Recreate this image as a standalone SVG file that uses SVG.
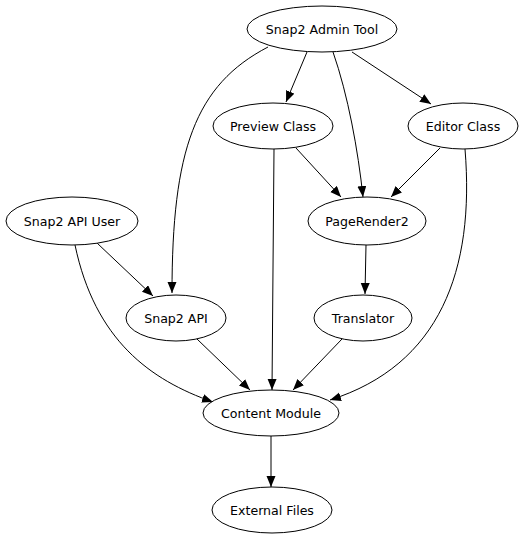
<svg xmlns="http://www.w3.org/2000/svg" width="522" height="538" viewBox="0 0 522 538">
<style>
.n ellipse{fill:#fff;stroke:#000;stroke-width:1}
.n text{font-family:"DejaVu Sans",sans-serif;font-size:12.6px;fill:#000;text-anchor:middle}
#edges path{fill:none;stroke:#000;stroke-width:1;marker-end:url(#ah)}
</style>
<defs>
<marker id="ah" markerUnits="userSpaceOnUse" markerWidth="12" markerHeight="10" refX="11" refY="4.5" orient="auto">
<path d="M0,0 L11,4.5 L0,9 Z" fill="#000"/>
</marker>
</defs>
<rect width="522" height="538" fill="#fff"/>
<g id="edges">
<path d="M307,52 L286,102"/>
<path d="M268,47 C195,85 172,150 172,293"/>
<path d="M333,52 C348,95 358,150 363,197"/>
<path d="M352,52 L431,104"/>
<path d="M296,148 L341,197"/>
<path d="M274,149 L272,390"/>
<path d="M440,148 L391,197"/>
<path d="M465,149 C475,270 440,365 330,400"/>
<path d="M366,245 L365,294"/>
<path d="M97,243 L153,296"/>
<path d="M75,245 C95,340 150,380 213,402"/>
<path d="M197,339 L250,390"/>
<path d="M342,339 L293,390"/>
<path d="M271,436 L271,487"/>
</g>
<g id="admin" class="n"><ellipse cx="322" cy="29" rx="75" ry="23"/><text x="322" y="34">Snap2 Admin Tool</text></g>
<g id="preview" class="n"><ellipse cx="273" cy="126" rx="60" ry="23"/><text x="273" y="131">Preview Class</text></g>
<g id="editor" class="n"><ellipse cx="463" cy="126" rx="55" ry="23"/><text x="463" y="131">Editor Class</text></g>
<g id="apiuser" class="n"><ellipse cx="72" cy="221" rx="66" ry="24"/><text x="72" y="226">Snap2 API User</text></g>
<g id="pagerender" class="n"><ellipse cx="367" cy="221" rx="59" ry="24"/><text x="367" y="226">PageRender2</text></g>
<g id="api" class="n"><ellipse cx="176" cy="318" rx="50" ry="23"/><text x="176" y="323">Snap2 API</text></g>
<g id="translator" class="n"><ellipse cx="363" cy="318" rx="49" ry="23"/><text x="363" y="323">Translator</text></g>
<g id="content" class="n"><ellipse cx="271" cy="413" rx="68" ry="23"/><text x="271" y="418">Content Module</text></g>
<g id="external" class="n"><ellipse cx="272" cy="510" rx="60" ry="23"/><text x="272" y="515">External Files</text></g>
</svg>
